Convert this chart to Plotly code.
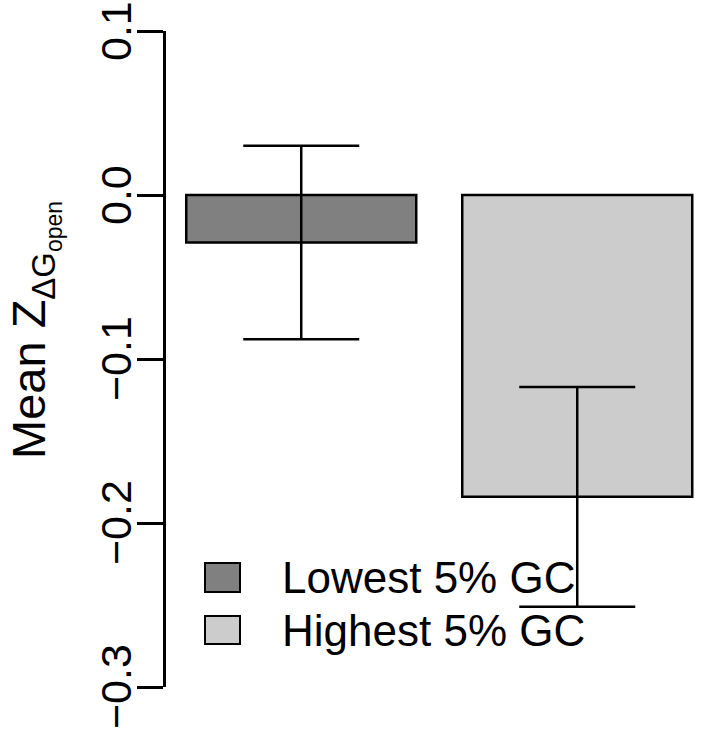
import plotly.graph_objects as go

categories = ["Lowest 5% GC", "Highest 5% GC"]
means = [-0.029, -0.184]
errors = [0.059, 0.067]
colors = ["#808080", "#CCCCCC"]
tick_vals = [-0.3, -0.2, -0.1, 0.0, 0.1]
tick_text = ["\u22120.3", "\u22120.2", "\u22120.1", "0.0", "0.1"]

# R barplot style positions: width 1, space 0.2
bar_width = 1.0
space = 0.2
xpos = [space + i * (bar_width + space) + bar_width / 2 for i in range(len(categories))]

FONT = "Liberation Sans, Arial, Helvetica, sans-serif"
W, H = 704, 736
L, R, T, B = 166, 0, 31, 49
pw = W - L - R
ph = H - T - B

fig = go.Figure()
for i, cat in enumerate(categories):
    fig.add_trace(go.Bar(
        x=[xpos[i]], y=[means[i]], width=[bar_width], name=cat,
        marker=dict(color=colors[i], line=dict(color="black", width=2.5)),
        error_y=dict(type="data", array=[errors[i]], visible=True,
                     color="black", thickness=2.5, width=58),
        showlegend=False,
    ))

# x-range matching R's 4% extension on left
xmin = 0.112
unit_px = 230.0
xmax = xmin + pw / unit_px

fig.update_layout(
    width=W, height=H,
    margin=dict(l=L, r=R, t=T, b=B, pad=0, autoexpand=False),
    paper_bgcolor="white", plot_bgcolor="white",
    font=dict(family=FONT, color="black", size=44),
    xaxis=dict(range=[xmin, xmax], visible=False, showgrid=False, zeroline=False,
               automargin=False),
    yaxis=dict(range=[-0.3, 0.1000001], tickvals=tick_vals, showticklabels=False,
               showline=True, linecolor="black", linewidth=2.5,
               ticks="outside", ticklen=26, tickwidth=2.5, tickcolor="black",
               automargin=False, showgrid=False, zeroline=False),
)

# rotated tick labels, centred exactly on their ticks (R style, las=0)
for v, t in zip(tick_vals, tick_text):
    fig.add_annotation(
        text=t, xref="paper", yref="y", x=(141 - L) / pw, y=v,
        xanchor="right", yanchor="middle", textangle=-90, showarrow=False,
        borderpad=0, font=dict(size=43, family=FONT, color="black"),
    )

# y-axis title
fig.add_annotation(
    text="Mean Z<sub>\u0394G<sub>open</sub></sub>",
    xref="paper", yref="paper",
    x=(34 - L) / pw, y=(H - B - 330) / ph,
    xanchor="center", yanchor="middle", textangle=-90, showarrow=False,
    font=dict(size=47, family=FONT, color="black"),
)

# manual legend (R-style boxes)
box_x0, box_x1 = (205 - L) / pw, (240 - L) / pw
legend_rows = [(563, 592), (616, 644)]
for i, cat in enumerate(categories):
    y0p, y1p = legend_rows[i]
    fig.add_shape(type="rect", xref="paper", yref="paper",
                  x0=box_x0, x1=box_x1,
                  y0=(H - B - y1p) / ph, y1=(H - B - y0p) / ph,
                  fillcolor=colors[i], line=dict(color="black", width=2), layer="above")
    fig.add_annotation(
        text=cat, xref="paper", yref="paper",
        x=(280 - L) / pw, y=(H - B - (y0p + y1p) / 2) / ph,
        xanchor="left", yanchor="middle", showarrow=False,
        font=dict(size=44, family=FONT, color="black"),
    )

fig.write_html("out.html", config={"displayModeBar": False},
               post_script="document.body.style.margin='0px';")
